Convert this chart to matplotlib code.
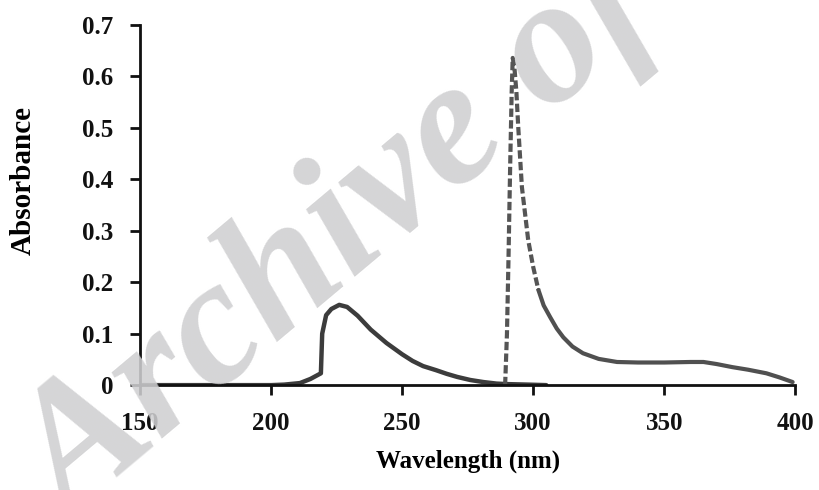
import matplotlib
matplotlib.use("Agg")
import matplotlib.pyplot as plt


# solid curve (first spectrum)
wl_a = [150, 200, 205, 211, 215, 219, 219.5, 221, 223, 226, 229, 233, 238,
        244, 250, 254, 258, 263, 267, 271, 276, 281, 286, 290, 298, 305]
abs_a = [0, 0, 0.001, 0.004, 0.012, 0.023, 0.1, 0.136, 0.148, 0.156, 0.152,
         0.135, 0.108, 0.082, 0.06, 0.047, 0.037, 0.029, 0.022, 0.016, 0.01,
         0.006, 0.003, 0.002, 0.001, 0]

# dashed part of second spectrum
wl_b = [289.3, 290, 290.6, 291.2, 291.8, 292.2, 292.8, 293.6, 294.3, 295.7,
        298.1, 300, 302]
abs_b = [0, 0.1, 0.25, 0.42, 0.57, 0.636, 0.62, 0.57, 0.502, 0.385, 0.282,
         0.23, 0.185]

# solid tail of second spectrum
wl_c = [302, 304, 306.5, 309, 311.5, 315, 319, 325, 332, 340, 350, 360, 365,
        370, 376, 382, 389, 394, 399]
abs_c = [0.185, 0.155, 0.132, 0.11, 0.093, 0.075, 0.062, 0.051, 0.045, 0.044,
         0.044, 0.045, 0.045, 0.041, 0.035, 0.03, 0.023, 0.015, 0.006]

xticks = [150, 200, 250, 300, 350, 400]
yticks = [0, 0.1, 0.2, 0.3, 0.4, 0.5, 0.6, 0.7]
ytick_labels = ["0", "0.1", "0.2", "0.3", "0.4", "0.5", "0.6", "0.7"]


plt.rcParams["font.family"] = ["Liberation Serif", "DejaVu Serif"]
plt.rcParams["font.weight"] = "bold"

fig = plt.figure(figsize=(8.19, 4.90), dpi=100)
ax = fig.add_axes([0.171, 0.214, 0.800, 0.735])

ax.plot(wl_a, abs_a, color="#3c3c3c", lw=3.2, solid_capstyle="round")
ax.plot(wl_b, abs_b, color="#555555", lw=3.0, linestyle=(0, (2.0, 0.8)))
ax.plot(wl_c, abs_c, color="#505050", lw=3.0, solid_capstyle="round")

ax.set_xlim(150, 400)
ax.set_ylim(0, 0.7)
ax.set_xticks(xticks)
ax.set_yticks(yticks)
ax.set_yticklabels(ytick_labels)

for s in ["top", "right"]:
    ax.spines[s].set_visible(False)
for s in ["left", "bottom"]:
    ax.spines[s].set_linewidth(2)
    ax.spines[s].set_color("#111111")

ax.tick_params(axis="both", direction="out", length=7, width=2,
               labelsize=18, colors="#111111", pad=12)
ax.tick_params(axis="x", pad=12)

ax.set_xlabel("Wavelength (nm)", fontsize=18, fontweight="bold", labelpad=11)
ax.set_ylabel("Absorbance", fontsize=21, fontweight="bold")
ax.yaxis.set_label_coords(-0.158, 0.567)

# watermark
fig.text(0.085, -0.07, "Archive of", fontsize=130, fontstyle="italic",
         fontweight="bold", color="#cfcfd1", alpha=0.88, rotation=40,
         rotation_mode="anchor", ha="left", va="baseline", zorder=10)

fig.savefig("out.png", dpi=100)
